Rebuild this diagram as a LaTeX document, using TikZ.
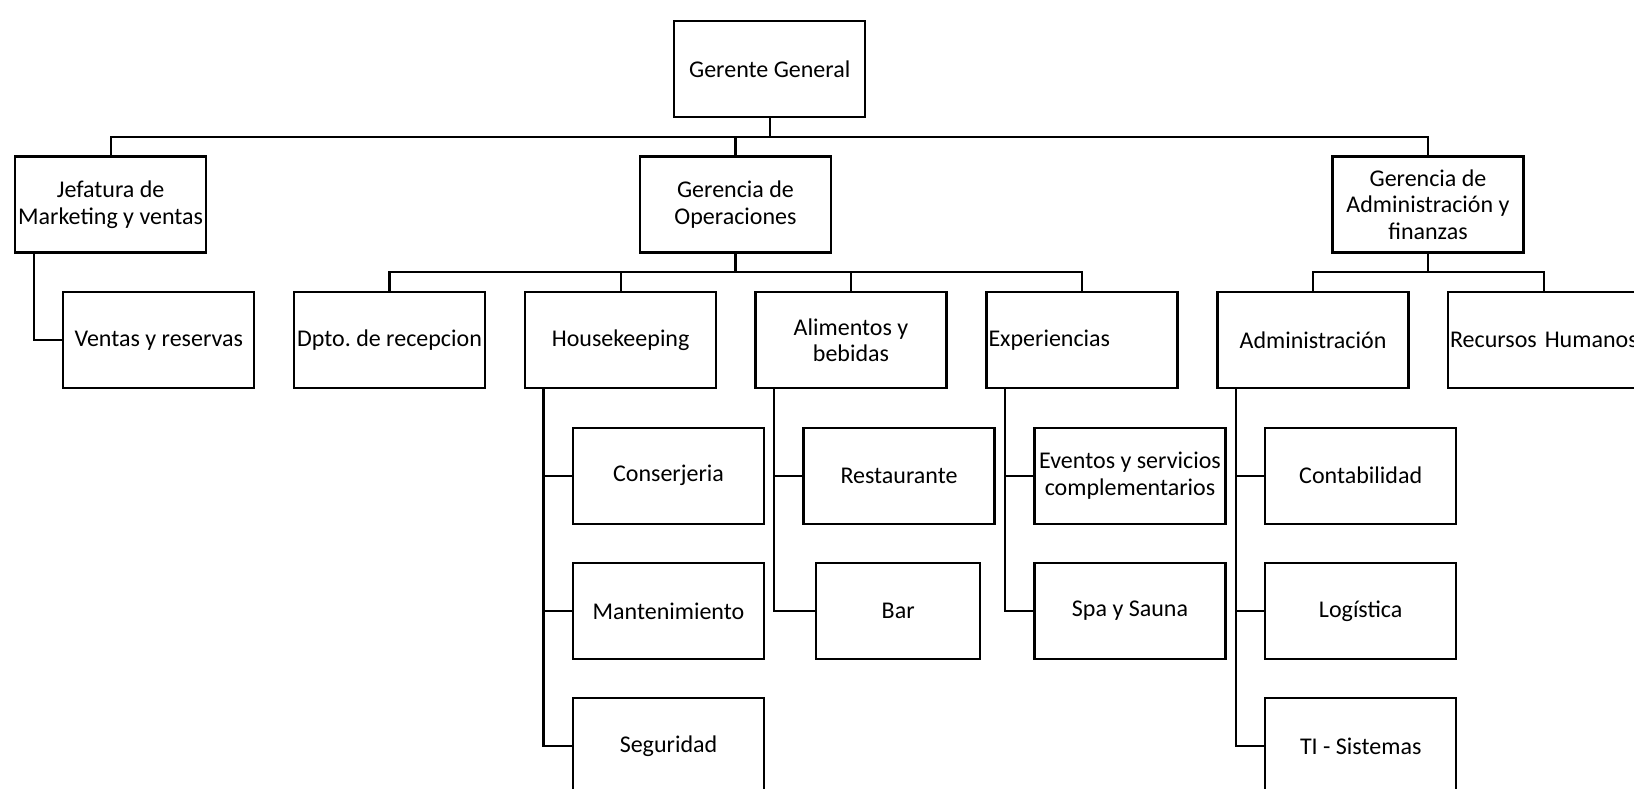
\documentclass[tikz,border=0pt]{standalone}
\usepackage{fontspec}
\setmainfont{Carlito}
\frenchspacing
\begin{document}
\begin{tikzpicture}[x=1pt,y=-1pt,
  box/.style={draw, line width=2.2pt, minimum width=191pt, minimum height=96pt, inner sep=1pt, align=center, font=\fontsize{24}{26.5}\selectfont\frenchspacing},
  lbox/.style={box, align=left, text width=187pt, inner xsep=2pt},
  conn/.style={line width=2.2pt}]
\useasboundingbox (0,0) rectangle (1634,789);
\fill[white] (0,0) rectangle (1634,789);
% level 0
\node[box] (gg) at (769.7,69.2) {Gerente General};
% level 1
\node[box] (jef) at (110.6,204.5) {Jefatura de\\Marketing y ventas};
\node[box] (ops) at (735.5,204.5) {Gerencia de\\Operaciones};
\node[box] (adm) at (1428,204.5) {Gerencia de\\Administración y\\finanzas};
% level 2
\node[box] (ventas) at (158.8,340.3) {Ventas y reservas};
\node[box] (dpto) at (389.5,340.3) {Dpto. de recepcion};
\node[box] (house) at (620.6,340.3) {Housekeeping};
\node[box] (alim) at (851,340.3) {Alimentos y\\bebidas};
\node[lbox] (exp) at (1082,340.3) {Experiencias};
\node[box] (admin) at (1313,340.3) {Administración};
\node[lbox] (rrhh) at (1543.6,340.3) {\mbox{Recursos Humanos}};
% level 3
\node[box] (conser) at (668.5,475.7) {Conserjeria};
\node[box] (mant) at (668.5,611) {Mantenimiento};
\node[box] (seg) at (668.5,746.3) {Seguridad};
\node[box] (rest) at (899,475.7) {Restaurante};
\node[box, minimum width=164pt] (bar) at (898.2,611) {Bar};
\node[box] (event) at (1130,475.7) {Eventos y servicios\\complementarios};
\node[box] (spa) at (1130,611) {Spa y Sauna};
\node[box] (conta) at (1360.7,475.7) {Contabilidad};
\node[box] (log) at (1360.7,611) {Logística};
\node[box] (ti) at (1360.7,746.3) {TI - Sistemas};
% buses
\coordinate (b1) at (769.7,136.7);
\coordinate (b2) at (735.5,272.3);
\coordinate (b3) at (1428,272.3);
\draw[conn] (gg.south) -- (b1);
\draw[conn] (jef.north) |- (b1) -| (adm.north);
\draw[conn] (ops.north) -- (ops.north |- b1);
\draw[conn] (ops.south) -- (b2);
\draw[conn] (dpto.north) |- (b2) -| (exp.north);
\draw[conn] (house.north) -- (house.north |- b2);
\draw[conn] (alim.north) -- (alim.north |- b2);
\draw[conn] (adm.south) -- (b3);
\draw[conn] (admin.north) |- (b3) -| (rrhh.north);
% side stems
\coordinate (js) at ([xshift=20pt]jef.south west);
\coordinate (hs) at ([xshift=19.5pt]house.south west);
\coordinate (as) at ([xshift=19.5pt]alim.south west);
\coordinate (es) at ([xshift=19.5pt]exp.south west);
\coordinate (ds) at ([xshift=19.8pt]admin.south west);
\draw[conn] (js) |- (ventas.west);
\draw[conn] (hs) |- (seg.west);
\draw[conn] (conser.west) -- (conser.west -| hs);
\draw[conn] (mant.west) -- (mant.west -| hs);
\draw[conn] (as) |- (bar.west);
\draw[conn] (rest.west) -- (rest.west -| as);
\draw[conn] (es) |- (spa.west);
\draw[conn] (event.west) -- (event.west -| es);
\draw[conn] (ds) |- (ti.west);
\draw[conn] (conta.west) -- (conta.west -| ds);
\draw[conn] (log.west) -- (log.west -| ds);
\end{tikzpicture}
\end{document}
